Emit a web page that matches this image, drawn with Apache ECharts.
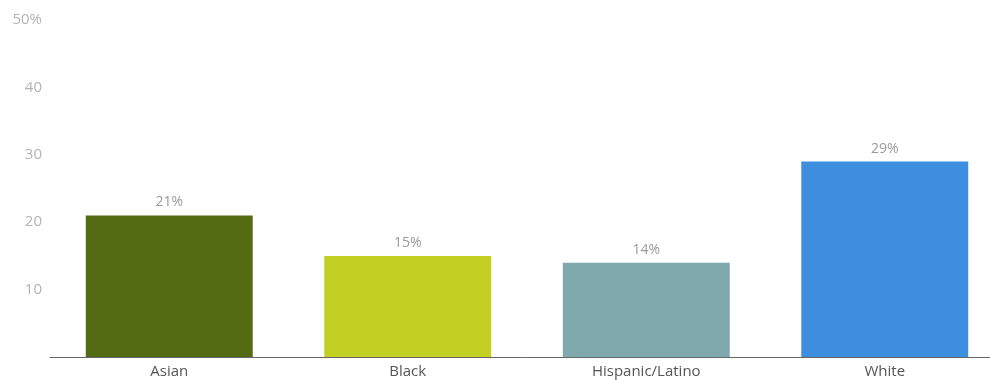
<!DOCTYPE html>
<html>
<head>
<meta charset="utf-8">
<script src="https://cdn.jsdelivr.net/npm/echarts@6/dist/echarts.min.js"></script>
<style>
  html, body { margin: 0; padding: 0; background: #fff; }
  #main { width: 990px; height: 380px; }
</style>
</head>
<body>
<div id="main"></div>
<script>
const categories = ['Asian', 'Black', 'Hispanic/Latino', 'White'];
const values = [21, 15, 14, 29];
const barColors = ['#546b13', '#c2cf23', '#80a9ae', '#3d8ede'];

const chart = echarts.init(document.getElementById('main'));

const option = {
  animation: false,
  grid: { left: 50, top: 20, right: -14, bottom: 23, containLabel: false, outerBoundsMode: 'none' },
  xAxis: {
    type: 'category',
    data: categories,
    axisTick: { show: false },
    axisLine: { lineStyle: { color: '#666', width: 1 } },
    axisLabel: { color: '#555', fontSize: 15, fontFamily: 'Open Sans', margin: 7 }
  },
  yAxis: {
    type: 'value',
    min: 0,
    max: 50,
    interval: 10,
    splitLine: { show: false },
    axisLine: { show: false },
    axisTick: { show: false },
    axisLabel: {
      color: '#b3b3b3',
      fontSize: 15,
      fontFamily: 'Open Sans',
      margin: 8,
      formatter: function (v) {
        if (v === 0) return '';
        return v === 50 ? v + '%' : String(v);
      }
    }
  },
  series: [{
    type: 'bar',
    barWidth: '70%',
    data: values.map((v, i) => ({ value: v, itemStyle: { color: barColors[i] } })),
    label: {
      show: true,
      position: 'top',
      distance: 6,
      color: '#999',
      fontSize: 14,
      fontFamily: 'Open Sans',
      formatter: '{c}%'
    }
  }]
};

chart.setOption(option);
</script>
</body>
</html>
